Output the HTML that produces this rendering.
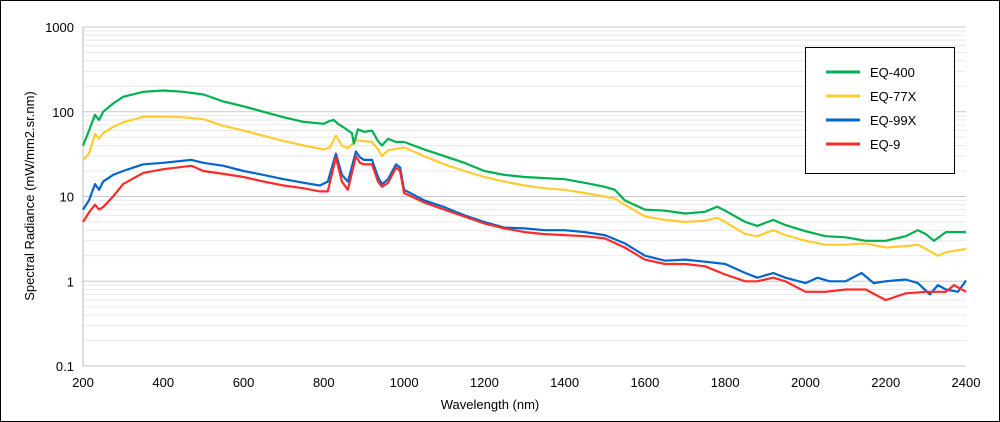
<!DOCTYPE html>
<html><head><meta charset="utf-8"><style>
body{margin:0;background:#fff}
svg{display:block;font-family:"Liberation Sans",sans-serif}
</style></head><body>
<svg id="c" width="1000" height="422">
<rect x="0.5" y="0.5" width="999" height="421" fill="#fff" stroke="#000"/>
<g id="grid"></g>
<g id="yt"></g>
<g id="xt"></g>
<g id="series"></g>
<text x="490" y="409" font-size="13" text-anchor="middle">Wavelength (nm)</text>
<text transform="translate(34,196) rotate(-90)" font-size="13" text-anchor="middle">Spectral Radiance (mW/mm2.sr.nm)</text>
<g>
<rect x="805.5" y="47.5" width="149" height="126" fill="#fff" stroke="#000" stroke-width="1"/>
<g id="leg"></g>
</g>
</svg>
<script>
const xTicks=[200,400,600,800,1000,1200,1400,1600,1800,2000,2200,2400];
const yTicks=[0.1,1,10,100,1000];
const yTickLabels=["0.1","1","10","100","1000"];
const seriesNames=["EQ-400","EQ-77X","EQ-99X","EQ-9"];
const seriesColors=["#00b050","#ffcc33","#0066cc","#ff2a2a"];
const wGreen=[200,215,230,240,250,275,300,350,400,450,500,550,600,650,700,750,800,815,825,835,850,870,875,885,900,920,935,945,960,980,1000,1050,1100,1150,1200,1250,1300,1350,1400,1450,1500,1525,1550,1600,1650,1700,1750,1780,1800,1850,1880,1920,1950,2000,2050,2100,2150,2200,2250,2280,2300,2320,2350,2400];
const vGreen=[40,60,92,80,100,125,150,172,178,172,160,132,116,100,86,76,72,78,80,72,65,56,42,62,58,60,45,40,48,44,44,36,30,25,20,18,17,16.5,16,14.5,13,12,9,7,6.8,6.3,6.6,7.6,6.8,5,4.5,5.3,4.6,3.9,3.4,3.3,3.0,3.0,3.4,4.0,3.6,3.0,3.8,3.8];
const wYellow=[200,215,230,240,250,275,300,350,400,450,500,550,600,650,700,750,800,815,830,845,860,880,900,920,935,945,960,1000,1050,1100,1150,1200,1250,1300,1350,1400,1450,1500,1525,1550,1600,1650,1700,1750,1780,1800,1850,1880,1920,1950,2000,2050,2100,2150,2200,2250,2280,2300,2330,2350,2400];
const vYellow=[27,32,55,48,56,66,75,87,88,86,82,68,60,52,45,40,36,38,52,40,37,46,45,44,36,30,35,38,30,24,20,17,15,13.5,12.5,12,11,10,9.5,8,5.8,5.3,5,5.2,5.6,5,3.6,3.4,4,3.5,3,2.7,2.7,2.8,2.5,2.6,2.7,2.4,2.0,2.2,2.4];
const wBlue=[200,215,230,240,250,275,300,350,400,470,500,550,600,650,700,750,790,810,830,845,860,880,890,900,920,935,945,960,980,990,1000,1050,1100,1150,1200,1250,1300,1350,1400,1450,1500,1550,1600,1650,1700,1750,1800,1850,1880,1920,1950,2000,2030,2060,2100,2140,2170,2200,2250,2280,2310,2330,2350,2380,2400];
const vBlue=[7,9,14,12,15,18,20,24,25,27,25,23,20,18,16,14.5,13.5,15,32,18,15,34,29,27,27,17,14,16,24,22,12,9,7.5,6,5,4.3,4.2,4,4,3.8,3.5,2.8,2,1.75,1.8,1.7,1.6,1.25,1.1,1.25,1.1,0.95,1.1,1.0,1.0,1.25,0.95,1.0,1.05,0.95,0.7,0.9,0.8,0.75,1.02];
const wRed=[200,215,230,240,250,275,300,350,400,470,500,550,600,650,700,750,790,810,830,845,860,880,890,900,920,935,945,960,980,990,1000,1050,1100,1150,1200,1250,1300,1350,1400,1450,1500,1550,1600,1650,1700,1750,1800,1850,1880,1920,1950,2000,2050,2100,2150,2200,2250,2300,2350,2370,2400];
const vRed=[5,6.5,8,7,7.5,10,14,19,21,23,20,18.5,17,15,13.5,12.5,11.5,11.5,29,15,12,30,25,24,24,15,13,14.5,22,20,11,8.5,7,5.8,4.8,4.2,3.8,3.6,3.5,3.4,3.2,2.5,1.8,1.6,1.6,1.5,1.2,1.0,1.0,1.1,1.0,0.75,0.75,0.8,0.8,0.6,0.72,0.75,0.75,0.9,0.75];
const L=83,R=966,T=27,B=366;
const X=w=>L+(w-200)/2200*(R-L);
const Y=v=>T+(3-Math.log10(v))/4*(B-T);
const NS="http://www.w3.org/2000/svg";
function mk(tag,attrs,parent){const e=document.createElementNS(NS,tag);for(const k in attrs)e.setAttribute(k,attrs[k]);parent.appendChild(e);return e;}
const grid=document.getElementById('grid');
for(let d=-1;d<3;d++){for(let m=1;m<10;m++){const v=m*Math.pow(10,d);const y=Y(v);
 const ln=mk('line',{x1:L,x2:R,y1:y,y2:y,stroke:m==1?'#c8c8c8':'#e8e8e8','stroke-width':1},grid);
 
 }}
const gl=mk('line',{x1:L,x2:R,y1:Y(1000),y2:Y(1000),stroke:'#c8c8c8'},grid);


const ax=mk('line',{x1:L,x2:L,y1:T,y2:B,stroke:'#bbb'},grid);


const yt=document.getElementById('yt');
yTicks.forEach((v,i)=>{const t=mk('text',{x:L-9,y:Y(v)+5,'font-size':13,'text-anchor':'end'},yt);t.textContent=yTickLabels[i];
 
 });
const xt=document.getElementById('xt');
xTicks.forEach(w=>{const t=mk('text',{x:X(w),y:387,'font-size':13,'text-anchor':'middle'},xt);t.textContent=w;
 
 });
const sg=document.getElementById('series');
const data=[[wGreen,vGreen],[wYellow,vYellow],[wBlue,vBlue],[wRed,vRed]];
[1,0,2,3].forEach(i=>{const [ws,vs]=data[i];
 const d=ws.map((w,j)=>(j?'L':'M')+X(w).toFixed(1)+','+Y(vs[j]).toFixed(1)).join('');
 const p=mk('path',{d:d,fill:'none',stroke:seriesColors[i],'stroke-width':2.2,'stroke-linejoin':'round'},sg);
 
 });
const leg=document.getElementById('leg');
seriesNames.forEach((n,i)=>{const y=72+i*24;
 const l=mk('line',{x1:826,x2:860,y1:y,y2:y,stroke:seriesColors[i],'stroke-width':3},leg);
 
 
 const t=mk('text',{x:870,y:y+5,'font-size':13},leg);t.textContent=n;
 
 });
</script>
</body></html>
